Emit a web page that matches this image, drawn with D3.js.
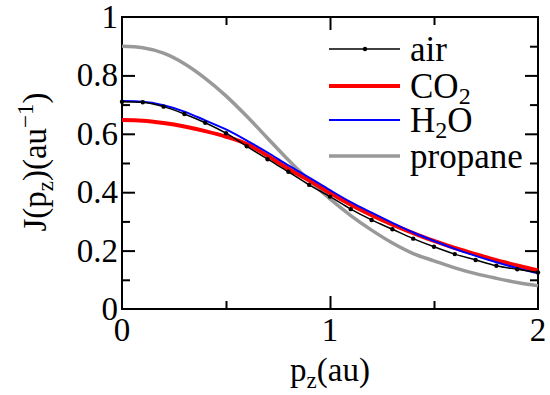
<!DOCTYPE html>
<html>
<head>
<meta charset="utf-8">
<script src="https://cdn.jsdelivr.net/npm/d3@7"></script>
</head>
<body style="margin:0">
<script>
// data
var pz = [0, 0.1, 0.2, 0.3, 0.4, 0.5, 0.6, 0.7, 0.8, 0.9, 1.0,
          1.1, 1.2, 1.3, 1.4, 1.5, 1.6, 1.7, 1.8, 1.9, 2.0];
var air = [0.71, 0.708, 0.693, 0.668, 0.638, 0.602, 0.557, 0.513, 0.47, 0.425, 0.385,
           0.342, 0.305, 0.273, 0.241, 0.213, 0.188, 0.168, 0.148, 0.136, 0.125];
var co2 = [0.647, 0.645, 0.637, 0.625, 0.609, 0.59, 0.565, 0.525, 0.48, 0.44, 0.397,
           0.357, 0.321, 0.289, 0.26, 0.233, 0.209, 0.188, 0.167, 0.149, 0.132];
var h2o = [0.712, 0.71, 0.698, 0.676, 0.646, 0.615, 0.577, 0.536, 0.492, 0.45, 0.407,
           0.366, 0.33, 0.295, 0.262, 0.233, 0.206, 0.182, 0.16, 0.14, 0.122];
var propane = [0.90, 0.895, 0.876, 0.84, 0.79, 0.73, 0.66, 0.585, 0.51, 0.44, 0.377,
               0.32, 0.27, 0.226, 0.19, 0.165, 0.141, 0.121, 0.105, 0.091, 0.08];
var yTicks = [0, 0.2, 0.4, 0.6, 0.8, 1];
var yTickLabels = ["0", "0.2", "0.4", "0.6", "0.8", "1"];
var xTicks = [0, 1, 2];
var seriesNames = ["air", "CO2", "H2O", "propane"];

var FONT = "'Liberation Serif'";
var margin = {top: 17, right: 12, bottom: 86, left: 122},
    width = 550 - margin.left - margin.right,
    height = 395 - margin.top - margin.bottom;

var svg = d3.select("body").append("svg")
    .attr("width", 550)
    .attr("height", 395)
    .style("font-family", FONT);
var g = svg.append("g")
    .attr("transform", "translate(" + margin.left + "," + margin.top + ")");

var x = d3.scaleLinear().domain([0, 2]).range([0, width]);
var y = d3.scaleLinear().domain([0, 1]).range([height, 0]);

// inward ticks on all four sides (no labels from the axis itself)
var major = 13, minor = 8;
g.append("g").attr("transform", "translate(0," + height + ")")
    .call(d3.axisBottom(x).tickValues([0.5, 1, 1.5]).tickSize(0).tickFormat(""))
    .selectAll(".tick line").attr("y2", function(d){ return d === 1 ? -major : -minor; });
g.append("g")
    .call(d3.axisTop(x).tickValues([0.5, 1, 1.5]).tickSize(0).tickFormat(""))
    .selectAll(".tick line").attr("y2", function(d){ return d === 1 ? major : minor; });
var yt = d3.range(1, 10).map(function(i){ return i / 10; });
g.append("g")
    .call(d3.axisLeft(y).tickValues(yt).tickSize(0).tickFormat(""))
    .selectAll(".tick line").attr("x2", function(d, i){ return i % 2 ? major : minor; });
g.append("g").attr("transform", "translate(" + width + ",0)")
    .call(d3.axisRight(y).tickValues(yt).tickSize(0).tickFormat(""))
    .selectAll(".tick line").attr("x2", function(d, i){ return i % 2 ? -major : -minor; });
g.selectAll(".domain").remove();
g.selectAll(".tick text").remove();
g.selectAll(".tick line").attr("stroke", "#000").attr("stroke-width", 2);

g.append("rect")
    .attr("width", width).attr("height", height)
    .attr("fill", "none").attr("stroke", "#000").attr("stroke-width", 2);

// tick labels
g.selectAll(".ylab").data(yTicks).enter().append("text")
    .attr("x", -4)
    .attr("y", function(d){ return y(d) + 11; })
    .attr("text-anchor", "end")
    .style("font-family", FONT)
    .style("font-size", "33px")
    .text(function(d, i){ return yTickLabels[i]; });
g.selectAll(".xlab").data(xTicks).enter().append("text")
    .attr("x", function(d){ return x(d); })
    .attr("y", height + 32)
    .attr("text-anchor", "middle")
    .style("font-family", FONT)
    .style("font-size", "33px")
    .text(function(d){ return d; });

// curves
var line = d3.line()
    .x(function(d, i){ return x(pz[i]); })
    .y(function(d){ return y(d); })
    .curve(d3.curveMonotoneX);

g.append("path").datum(propane).attr("d", line)
    .attr("fill", "none").attr("stroke", "#999999").attr("stroke-width", 3.5);
g.append("path").datum(co2).attr("d", line)
    .attr("fill", "none").attr("stroke", "#ff0000").attr("stroke-width", 4);
g.append("path").datum(h2o).attr("d", line)
    .attr("fill", "none").attr("stroke", "#0000ff").attr("stroke-width", 2);
g.append("path").datum(air).attr("d", line)
    .attr("fill", "none").attr("stroke", "#000").attr("stroke-width", 1.5);
g.selectAll(".dot").data(air).enter().append("circle")
    .attr("cx", function(d, i){ return x(pz[i]); })
    .attr("cy", function(d){ return y(d); })
    .attr("r", 2.2)
    .attr("fill", "#000");

// legend
var legColors = ["#000", "#ff0000", "#0000ff", "#999999"];
var legWidths = [1.5, 4, 2, 3.5];
var legY = [32, 69, 103, 139];
var leg = g.selectAll(".leg").data(seriesNames).enter().append("g")
    .attr("transform", function(d, i){ return "translate(207," + legY[i] + ")"; });
leg.append("line")
    .attr("x1", 0).attr("x2", 71)
    .attr("stroke", function(d, i){ return legColors[i]; })
    .attr("stroke-width", function(d, i){ return legWidths[i]; });
leg.filter(function(d){ return d === "air"; }).append("circle")
    .attr("cx", 36).attr("r", 2.2).attr("fill", "#000");
var lt = leg.append("text")
    .attr("x", 81).attr("y", 12)
    .style("font-family", FONT)
    .style("font-size", "35px");
lt.each(function(d){
    var t = d3.select(this);
    if (d === "CO2") {
        t.append("tspan").text("CO");
        t.append("tspan").attr("dy", 6).style("font-size", "24px").text("2");
    } else if (d === "H2O") {
        t.append("tspan").text("H");
        t.append("tspan").attr("dy", 6).style("font-size", "24px").text("2");
        t.append("tspan").attr("dy", -6).text("O");
    } else {
        t.text(d);
    }
});

// axis titles
var xt = svg.append("text")
    .attr("x", margin.left + width / 2)
    .attr("y", 381)
    .attr("text-anchor", "middle")
    .style("font-family", FONT)
    .style("font-size", "33px");
xt.append("tspan").text("p");
xt.append("tspan").attr("dy", 7).style("font-size", "23px").text("z");
xt.append("tspan").attr("dy", -7).text("(au)");

var ytl = svg.append("text")
    .attr("transform", "translate(46,162) rotate(-90)")
    .attr("text-anchor", "middle")
    .style("font-family", FONT)
    .style("font-size", "33px");
ytl.append("tspan").text("J(p");
ytl.append("tspan").attr("dy", 7).style("font-size", "23px").text("z");
ytl.append("tspan").attr("dy", -7).text(")(au");
ytl.append("tspan").attr("dy", -13).style("font-size", "23px").text("\u22121");
ytl.append("tspan").attr("dy", 13).text(")");
</script>
</body>
</html>
